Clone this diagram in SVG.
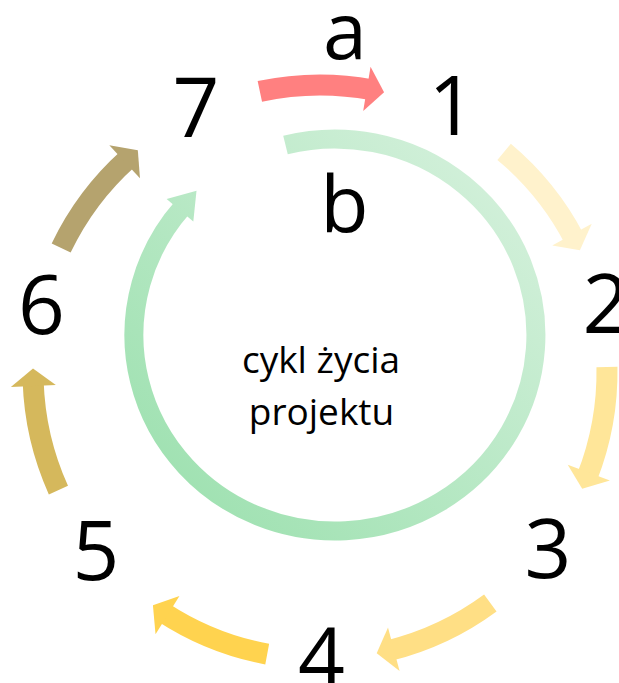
<svg xmlns="http://www.w3.org/2000/svg" width="619" height="683" viewBox="0 0 619 683">
  <defs>
    <linearGradient id="greenGrad" gradientUnits="userSpaceOnUse" x1="520" y1="150" x2="150" y2="520">
      <stop offset="0" stop-color="#D6F1DD"/>
      <stop offset="1" stop-color="#9BE0AE"/>
    </linearGradient>
    <g id="arcArrow">
      <path d="M257.88,91.80 A287,287 0 0 1 369.84,89.36" fill="none" stroke="currentColor" stroke-width="21"/>
      <polygon fill="currentColor" points="368.42,66.31 382.12,91.80 361.38,110.76"/>
    </g>
  </defs>
  <style>
    .lbl { font-family: "Open Sans", "Noto Sans", "DejaVu Sans", sans-serif; fill: #000; text-anchor: middle; }
    .big { font-size: 82px; }
    .let { font-size: 79px; }
    .ctr { font-size: 37px; }
  </style>
  <rect width="619" height="683" fill="#fff"/>

  <g id="connectors">
    <use id="arrow-a" href="#arcArrow" color="#FF8080" transform="rotate(0.4 320 372)"/>
    <use id="arrow-1-2" href="#arcArrow" color="#FFF2CC" transform="rotate(52.4 320 372)"/>
    <use id="arrow-2-3" href="#arcArrow" color="#FFE699" transform="rotate(101.5 320 372)"/>
    <use id="arrow-3-4" href="#arcArrow" color="#FFDF85" transform="rotate(156.1 320 372)"/>
    <use id="arrow-4-5" href="#arcArrow" color="#FFD34F" transform="rotate(203.1 320 372)"/>
    <use id="arrow-5-6" href="#arcArrow" color="#D5B85C" transform="rotate(258.2 320 372)"/>
    <use id="arrow-6-7" href="#arcArrow" color="#B5A36E" transform="rotate(308.1 320 372)"/>
    <g id="arrow-b">
      <path d="M285.5,145 A201,196 0 1 1 182.6,207.1" fill="none" stroke="url(#greenGrad)" stroke-width="19"/>
      <polygon fill="url(#greenGrad)" points="166.6,198.9 196.5,190.7 193.3,221.5"/>
    </g>
  </g>

  <g id="node-a"><text class="lbl let" x="345" y="59">a</text></g>
  <g id="node-b"><text class="lbl let" x="344.5" y="232">b</text></g>
  <g id="node-1"><text class="lbl big" x="452" y="135">1</text></g>
  <g id="node-2"><text class="lbl big" x="606" y="333">2</text></g>
  <g id="node-3"><text class="lbl big" x="548" y="578">3</text></g>
  <g id="node-4"><text class="lbl big" x="321.5" y="687">4</text></g>
  <g id="node-5"><text class="lbl big" x="96" y="580">5</text></g>
  <g id="node-6"><text class="lbl big" x="41.5" y="334">6</text></g>
  <g id="node-7"><text class="lbl big" x="196" y="137">7</text></g>
  <g id="center-label">
    <text class="lbl ctr" x="321" y="373">cykl życia</text>
    <text class="lbl ctr" x="321.5" y="425">projektu</text>
  </g>
</svg>
